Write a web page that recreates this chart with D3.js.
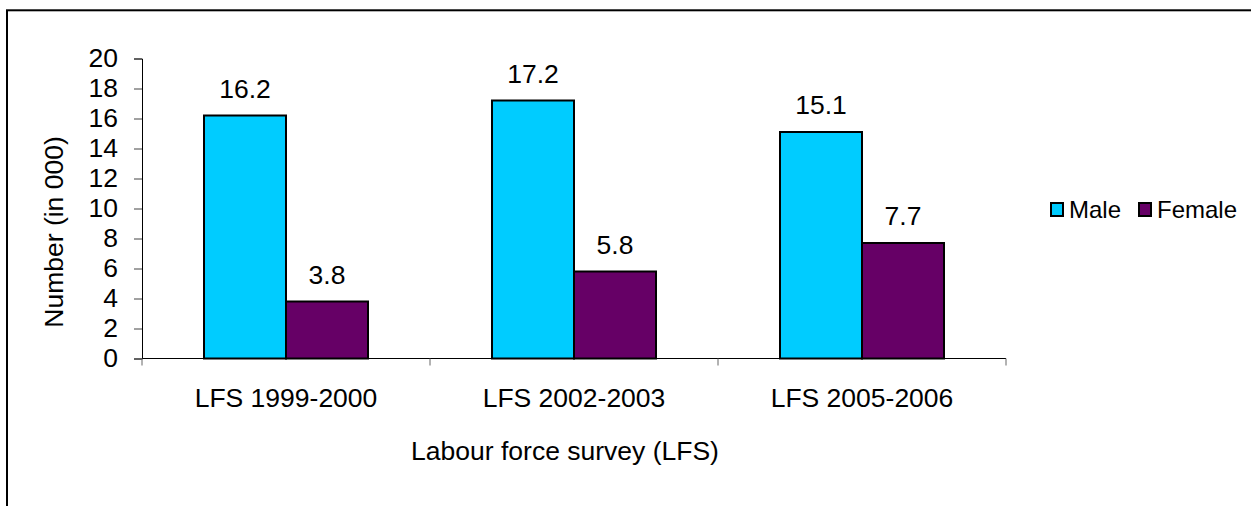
<!DOCTYPE html>
<html>
<head>
<meta charset="utf-8">
<script src="https://cdn.jsdelivr.net/npm/d3@7"></script>
<style>
  body { margin: 0; background: #fff; }
  text { font-family: 'Liberation Sans', Arial, sans-serif; fill: #000; }
</style>
</head>
<body>
<svg width="1251" height="506"></svg>
<script>
const categories = ['LFS 1999-2000', 'LFS 2002-2003', 'LFS 2005-2006']
const series = ['Male', 'Female']
const male = [16.2, 17.2, 15.1]
const female = [3.8, 5.8, 7.7]
const yTicks = [0, 2, 4, 6, 8, 10, 12, 14, 16, 18, 20]
const colors = ['#00CCFF', '#660066']

const svg = d3.select('svg')
const fontSize = 26.5

// outer frame
svg.append('rect')
   .attr('x', 7).attr('y', 10.3)
   .attr('width', 1300).attr('height', 600)
   .attr('fill', 'none')
   .attr('stroke', '#000')
   .attr('stroke-width', 2)

const x = d3.scaleBand().domain(categories).range([142, 1006])
const xInner = d3.scaleBand().domain(series).range([62, 226])
const y = d3.scaleLinear().domain([0, 20]).range([358.5, 58.5])

const rows = categories.map((c, i) => ({ cat: c, values: [male[i], female[i]] }))

// y axis
const yAxis = svg.append('g')
  .attr('transform', 'translate(142,0)')
  .call(d3.axisLeft(y).tickValues(yTicks).tickSize(8).tickPadding(16).tickFormat(d3.format('d')))
yAxis.select('.domain').attr('stroke', '#000')
yAxis.selectAll('.tick line').attr('stroke', '#444')
yAxis.selectAll('text').style('font-size', fontSize + 'px').attr('fill', '#000')

// x axis: ticks at band edges
const xAxisG = svg.append('g').attr('transform', 'translate(0,358.5)')
xAxisG.append('line').attr('x1', 142).attr('x2', 1006).attr('stroke', '#000')
const edges = categories.map(c => x(c)).concat([x(categories[categories.length - 1]) + x.bandwidth()])
xAxisG.selectAll('.edge').data(edges).enter().append('line')
      .attr('x1', d => d).attr('x2', d => d)
      .attr('y1', 0).attr('y2', 7)
      .attr('stroke', '#666')
xAxisG.selectAll('.cat').data(categories).enter().append('text')
      .attr('x', d => x(d) + x.bandwidth() / 2)
      .attr('y', 48)
      .attr('text-anchor', 'middle')
      .style('font-size', fontSize + 'px')
      .text(d => d)

// bars
const group = svg.selectAll('.grp').data(rows).enter().append('g')
  .attr('transform', d => 'translate(' + x(d.cat) + ',0)')

group.selectAll('rect')
  .data(d => d.values.map((v, i) => ({ key: series[i], v: v, i: i })))
  .enter().append('rect')
  .attr('x', d => xInner(d.key))
  .attr('y', d => y(d.v))
  .attr('width', xInner.bandwidth())
  .attr('height', d => y(0) - y(d.v))
  .attr('fill', d => colors[d.i])
  .attr('stroke', '#000')
  .attr('stroke-width', 2)

group.selectAll('.val')
  .data(d => d.values.map((v, i) => ({ key: series[i], v: v })))
  .enter().append('text')
  .attr('x', d => xInner(d.key) + xInner.bandwidth() / 2)
  .attr('y', d => y(d.v) - 18)
  .attr('text-anchor', 'middle')
  .style('font-size', fontSize + 'px')
  .text(d => d3.format('.1f')(d.v))

// axis titles
svg.append('text')
   .attr('transform', 'translate(63,232) rotate(-90)')
   .attr('text-anchor', 'middle')
   .style('font-size', fontSize + 'px')
   .text('Number (in 000)')

svg.append('text')
   .attr('x', 565).attr('y', 460)
   .attr('text-anchor', 'middle')
   .style('font-size', fontSize + 'px')
   .text('Labour force survey (LFS)')

// legend
const legendX = [1051, 1139]
const legend = svg.selectAll('.leg').data(series).enter().append('g')
  .attr('transform', (d, i) => 'translate(' + legendX[i] + ',203)')
legend.append('rect')
      .attr('width', 12).attr('height', 13)
      .attr('fill', (d, i) => colors[i])
      .attr('stroke', '#000').attr('stroke-width', 2)
legend.append('text')
      .attr('x', 18).attr('y', 15)
      .style('font-size', '24px')
      .text(d => d)
</script>
</body>
</html>
